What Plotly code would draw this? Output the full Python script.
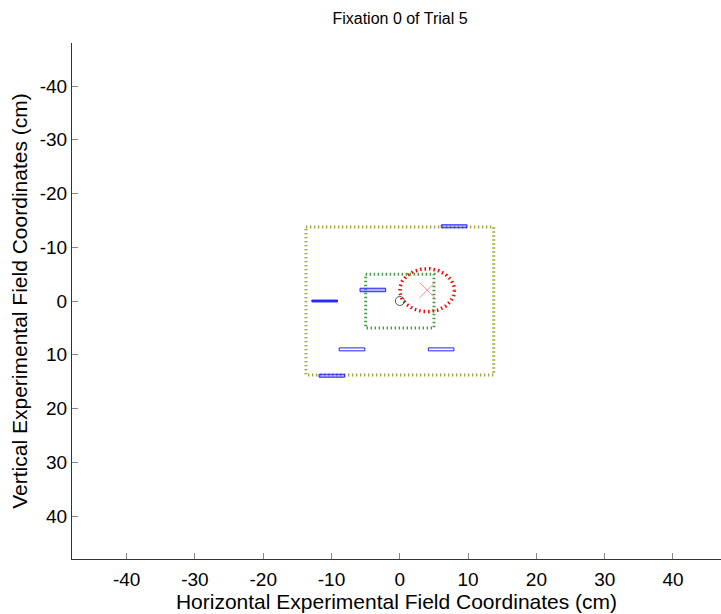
import numpy as np
import plotly.graph_objects as go

# ---- data ----
title_text = "Fixation 0 of Trial 5"
x_label = "Horizontal Experimental Field Coordinates (cm)"
y_label = "Vertical Experimental Field Coordinates (cm)"
tick_vals = [-40, -30, -20, -10, 0, 10, 20, 30, 40]
tick_text = ["-40", "-30", "-20", "-10", "0", "10", "20", "30", "40"]

# field boundary (outer square) and inner region (half-widths, cm)
outer_half = 13.75
inner_half = 5.0

# fixation point and target circle
fix_x = [0.0]
fix_y = [0.0]
target_x = [4.0]
target_y = [-2.0]
target_r = 4.0

# bars (centers, cm)
bar_x = [7.95, -11.0, -3.95, -7.0, 6.05, -9.95]
bar_y = [-13.9, 0.0, -2.05, 9.0, 9.0, 13.9]
bar_w = [3.75, 3.75, 3.75, 3.75, 3.75, 3.75]
bar_h = [0.55, 0.35, 0.65, 0.55, 0.55, 0.55]
bar_fill = ["rgba(90,90,255,0.45)", "rgba(40,40,255,1)", "rgba(90,90,255,0.45)",
            "rgba(255,255,255,0)", "rgba(255,255,255,0)", "rgba(90,90,255,0.45)"]

FONT = "Liberation Sans, Arial, Helvetica"

fig = go.Figure()

def square(h):
    return [-h, h, h, -h, -h], [-h, -h, h, h, -h]

sx, sy = square(outer_half)
fig.add_trace(go.Scatter(x=sx, y=sy, mode="lines",
                         line=dict(color="#a3a340", width=3, dash="1.4px,2.6px"),
                         hoverinfo="skip"))
sx, sy = square(inner_half)
fig.add_trace(go.Scatter(x=sx, y=sy, mode="lines",
                         line=dict(color="#3f9f3f", width=3, dash="1.4px,2.6px"),
                         hoverinfo="skip"))

# target circle
t = np.linspace(0, 2 * np.pi, 200)
fig.add_trace(go.Scatter(x=target_x[0] + target_r * np.cos(t),
                         y=target_y[0] + target_r * np.sin(t),
                         mode="lines",
                         line=dict(color="#ff0000", width=3.5, dash="1.5px,3px"),
                         hoverinfo="skip"))

# bars
for cx, cy, w, h, fc in zip(bar_x, bar_y, bar_w, bar_h, bar_fill):
    fig.add_trace(go.Scatter(
        x=[cx - w / 2, cx + w / 2, cx + w / 2, cx - w / 2, cx - w / 2],
        y=[cy - h / 2, cy - h / 2, cy + h / 2, cy + h / 2, cy - h / 2],
        mode="lines", fill="toself", fillcolor=fc,
        line=dict(color="#2020ff", width=1), hoverinfo="skip"))

# target cross
fig.add_trace(go.Scatter(x=target_x, y=target_y, mode="markers",
                         marker=dict(symbol="x-thin-open", size=15,
                                     color="rgba(255,110,110,0.8)",
                                     line=dict(color="rgba(255,110,110,0.8)", width=1)),
                         hoverinfo="skip"))
# fixation
fig.add_trace(go.Scatter(x=fix_x, y=fix_y, mode="markers",
                         marker=dict(symbol="circle-open", size=9, color="#555555",
                                     line=dict(color="#555555", width=1)),
                         hoverinfo="skip"))

axis_common = dict(
    tickvals=tick_vals, ticktext=tick_text,
    ticks="inside", ticklen=6, tickcolor="#888888", tickwidth=1,
    showline=True, linecolor="#333333", linewidth=1,
    showgrid=False, zeroline=False, mirror=False, automargin=False,
    tickfont=dict(family=FONT, size=19, color="#000000"),
    title_font=dict(family=FONT, size=21, color="#000000"),
)

fig.update_layout(
    width=721, height=614,
    margin=dict(l=72, r=0, t=43, b=55),
    paper_bgcolor="white", plot_bgcolor="white",
    showlegend=False,
    title=dict(text=title_text, x=400 / 721, xanchor="center", y=1 - 18 / 614, yanchor="middle",
               font=dict(family=FONT, size=16, color="#000000")),
)
fig.update_xaxes(range=[-48, 47.03], title_text=x_label, title_standoff=2,
                 ticklabelstandoff=3, **axis_common)
fig.update_yaxes(range=[48, -48], title_text=y_label, title_standoff=6, **axis_common)

fig.write_html(
    "out.html",
    config={"displayModeBar": False},
    post_script="document.body.style.margin='0';"
                "document.documentElement.style.overflow='hidden';",
)
